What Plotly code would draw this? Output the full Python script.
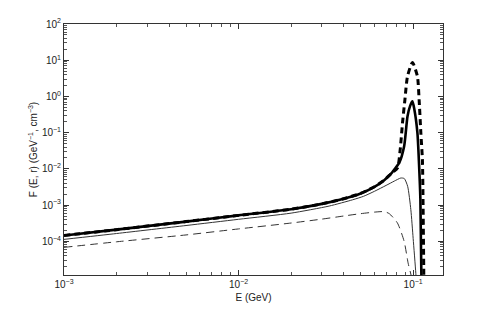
import plotly.graph_objects as go

# Thin solid curve
E_thin = [0.001, 0.002, 0.005, 0.01, 0.02, 0.033, 0.045, 0.052, 0.06, 0.07, 0.078, 0.085, 0.089,
          0.093, 0.097, 0.100, 0.1036, 0.106]
F_thin = [1.13e-4, 1.64e-4, 2.73e-4, 4.05e-4, 6.0e-4, 9.4e-4, 1.4e-3, 1.75e-3, 2.4e-3, 3.5e-3, 4.6e-3,
          5.6e-3, 5.4e-3, 3.3e-3, 7.5e-4, 1.2e-4, 1.3e-5, 2e-6]

# Thin dashed curve
E_dash = [0.001, 0.002, 0.005, 0.01, 0.02, 0.03, 0.04, 0.05, 0.06, 0.0683, 0.073, 0.0813,
          0.0888, 0.0936, 0.099, 0.101]
F_dash = [6.8e-5, 9.7e-5, 1.5e-4, 2.2e-4, 3.2e-4, 4.1e-4, 5.0e-4, 5.8e-4, 6.4e-4, 6.6e-4, 5.8e-4,
          3.2e-4, 1.0e-4, 2.5e-5, 8e-6, 2e-6]

# Thick solid curve
E_tot = [0.001, 0.002, 0.005, 0.01, 0.02, 0.03, 0.04, 0.05, 0.06, 0.068, 0.075, 0.0778, 0.0832,
         0.0888, 0.0928, 0.0961, 0.0991, 0.1015, 0.1058, 0.108, 0.110, 0.112]
F_tot = [1.45e-4, 2.1e-4, 3.5e-4, 5.2e-4, 7.7e-4, 1.08e-3, 1.5e-3, 2.1e-3, 3.2e-3, 4.8e-3, 7.5e-3,
         9.5e-3, 1.46e-2, 4.2e-2, 0.28, 0.55, 0.73, 0.45, 0.098, 0.0146, 1.5e-3, 2e-6]

# Thick dashed curve
E_peak = [0.001, 0.002, 0.005, 0.01, 0.02, 0.03, 0.04, 0.05, 0.06, 0.068, 0.075, 0.0813, 0.0843,
          0.0869, 0.0897, 0.0928, 0.0991, 0.1058, 0.1082, 0.1107, 0.113, 0.114, 0.1155]
F_peak = [1.45e-4, 2.1e-4, 3.5e-4, 5.2e-4, 7.7e-4, 1.08e-3, 1.5e-3, 2.1e-3, 3.2e-3, 4.8e-3, 7.5e-3,
          1.06e-2, 3.4e-2, 0.185, 0.81, 3.58, 8.7, 3.58, 0.81, 0.098, 0.018, 1e-3, 2e-6]

y_tickvals = [1e-4, 1e-3, 1e-2, 1e-1, 1e0, 1e1, 1e2]
y_ticktext = ["10<sup>−4</sup>", "10<sup>−3</sup>", "10<sup>−2</sup>", "10<sup>−1</sup>",
              "10<sup>0</sup>", "10<sup>1</sup>", "10<sup>2</sup>"]
x_tickvals = [1e-3, 1e-2, 1e-1]
x_ticktext = ["10<sup>−3</sup>", "10<sup>−2</sup>", "10<sup>−1</sup>"]

fig = go.Figure()
fig.add_trace(go.Scatter(x=E_dash, y=F_dash, mode="lines",
                         line=dict(color="#333333", width=1, dash="8px,5px", shape="spline", smoothing=0.6)))
fig.add_trace(go.Scatter(x=E_thin, y=F_thin, mode="lines",
                         line=dict(color="#333333", width=1, shape="spline", smoothing=0.6)))
fig.add_trace(go.Scatter(x=E_peak, y=F_peak, mode="lines",
                         line=dict(color="black", width=3, dash="6px,4px", shape="spline", smoothing=0.6)))
fig.add_trace(go.Scatter(x=E_tot, y=F_tot, mode="lines",
                         line=dict(color="black", width=2.6, shape="spline", smoothing=0.6)))

axis_font = dict(family="Liberation Sans, Arial, sans-serif", size=10, color="#222222")
fig.update_layout(
    width=483, height=304,
    margin=dict(l=56, r=47.5, t=16, b=36.5),
    paper_bgcolor="white", plot_bgcolor="white",
    showlegend=False,
    font=axis_font,
    xaxis=dict(type="log", range=[-3, -0.829], tickvals=x_tickvals, ticktext=x_ticktext,
               ticks="inside", ticklen=5, tickcolor="#333", showline=True, linecolor="#333",
               linewidth=1, mirror="allticks", showgrid=False, zeroline=False, automargin=False,
               minor=dict(ticks="inside", ticklen=3, tickcolor="#555", showgrid=False,
                          tickvals=[k * 10 ** e for e in (-3, -2, -1) for k in range(2, 10)]),
               title=dict(text="E (GeV)", font=dict(size=10), standoff=4), tickfont=axis_font),
    yaxis=dict(type="log", range=[-4.93, 2], tickvals=y_tickvals, ticktext=y_ticktext,
               ticks="inside", ticklen=5, tickcolor="#333", showline=True, linecolor="#333",
               linewidth=1, mirror="allticks", showgrid=False, zeroline=False, automargin=False,
               minor=dict(ticks="inside", ticklen=3, tickcolor="#555", showgrid=False,
                          tickvals=[k * 10 ** e for e in range(-5, 2) for k in range(2, 10)]),
               title=dict(text="F (E, r) (GeV<sup>−1</sup>, cm<sup>−3</sup>)", font=dict(size=10), standoff=2),
               tickfont=axis_font),
)
fig.write_html("out.html")
